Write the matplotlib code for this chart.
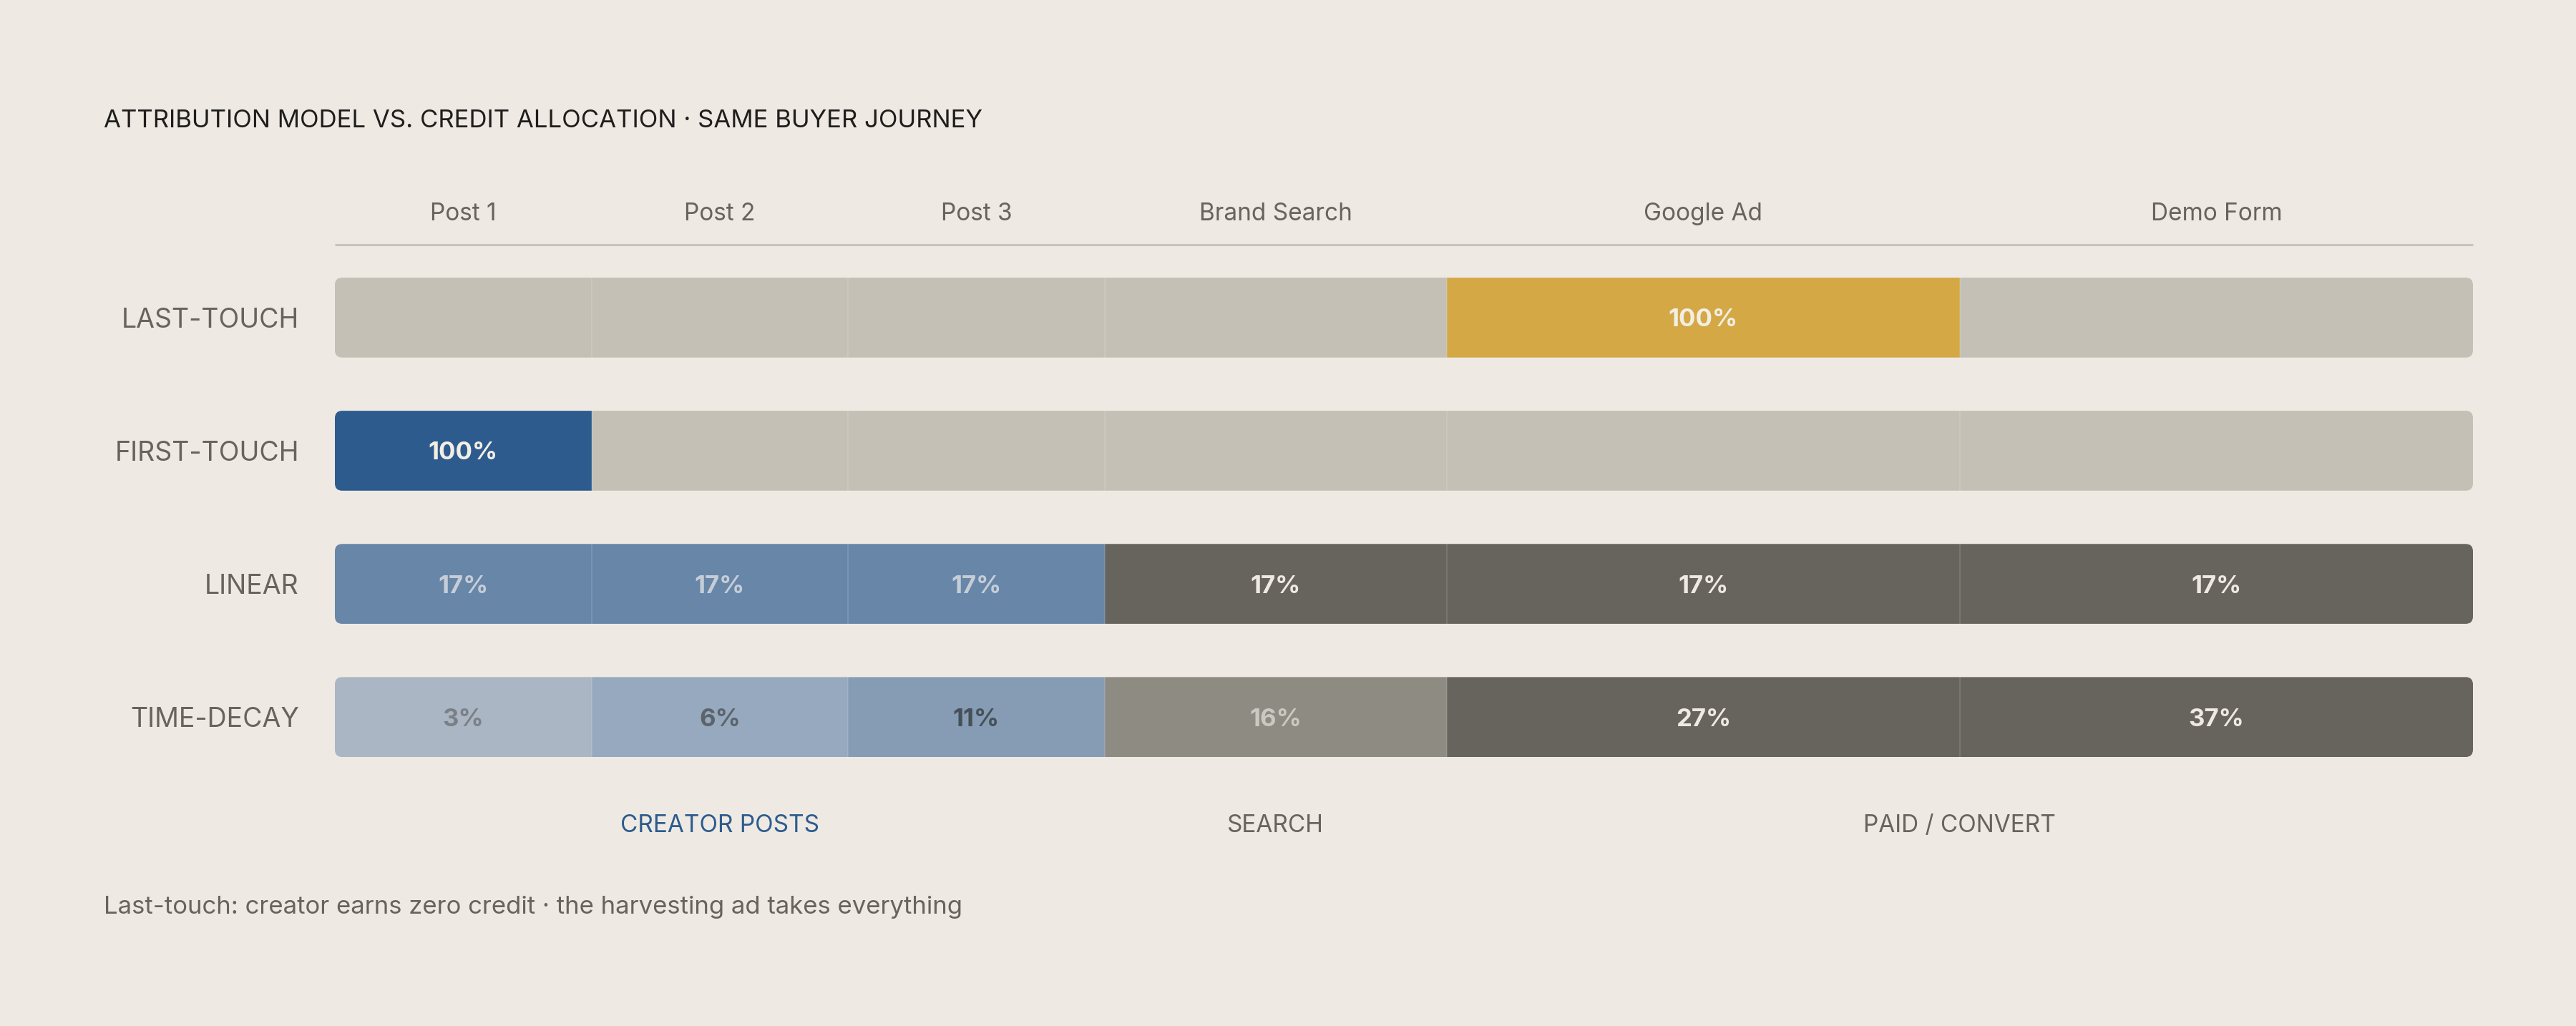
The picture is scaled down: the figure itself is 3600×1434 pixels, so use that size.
# Attribution model vs. credit allocation chart

import matplotlib.pyplot as plt
from matplotlib.patches import FancyBboxPatch
import numpy as np

plt.rcParams['font.family'] = ['Inter', 'DejaVu Sans']

# data
touchpoints = ['Post 1', 'Post 2', 'Post 3', 'Brand Search', 'Google Ad', 'Demo Form']
models = ['LAST-TOUCH', 'FIRST-TOUCH', 'LINEAR', 'TIME-DECAY']
last_touch = [0, 0, 0, 0, 100, 0]
first_touch = [100, 0, 0, 0, 0, 0]
linear = [17, 17, 17, 17, 17, 17]
time_decay = [3, 6, 11, 16, 27, 37]
groups = ['CREATOR POSTS', 'SEARCH', 'PAID / CONVERT']
group_members = [[0, 1, 2], [3], [4, 5]]

credit = [last_touch, first_touch, linear, time_decay]

# layout / style
col_span = np.array([3, 3, 3, 4, 6, 6])
lefts = np.concatenate([[0], np.cumsum(col_span)[:-1]])
total = col_span.sum()

BG = '#EEEAE3'
EMPTY = '#C4C0B5'
INK = '#67645E'
cell_colors = [
    ['#D4A845'] * 6,
    ['#2D5B8E'] * 6,
    ['#6786A8', '#6786A8', '#6786A8', '#67645E', '#67645E', '#67645E'],
    ['#AAB6C3', '#97A9BE', '#859CB4', '#8E8B83', '#67645E', '#67645E'],
]
text_colors = [
    ['#F3EEE4'] * 6,
    ['#F3EEE4'] * 6,
    ['#C6CDD7', '#C6CDD7', '#C6CDD7', '#EEEAE3', '#EEEAE3', '#EEEAE3'],
    ['#7B8087', '#5C636B', '#465059', '#CBC8C1', '#EEEAE3', '#EEEAE3'],
]
bar_h = 0.6

fig = plt.figure(figsize=(36, 14.34), dpi=100, facecolor=BG)
ax = fig.add_axes([0.13, 0.2622, 0.83, 0.4672])
ax.set_facecolor(BG)
ax.set_xlim(0, total)
ax.set_ylim(3.3, -0.3)
ax.axis('off')

for i, row in enumerate(credit):
    # rounded outline for the whole row, used to clip the cells
    outline = FancyBboxPatch((0, i - bar_h / 2), total, bar_h,
                             boxstyle='round,pad=0,rounding_size=0.085',
                             mutation_aspect=0.64, facecolor='none',
                             edgecolor='none', transform=ax.transData)
    ax.add_patch(outline)

    colors = [cell_colors[i][j] if v > 0 else EMPTY for j, v in enumerate(row)]
    bars = ax.barh(i, col_span, left=lefts, height=bar_h, color=colors, linewidth=0)
    for b in bars:
        b.set_clip_path(outline)

    # thin separators between cells
    ax.vlines(lefts[1:], i - bar_h / 2, i + bar_h / 2, colors='white',
              alpha=0.14, linewidth=1.2)

    for j, v in enumerate(row):
        if v > 0:
            ax.text(lefts[j] + col_span[j] / 2, i, f'{v}%', ha='center',
                    va='center_baseline', fontsize=25, fontweight='bold',
                    color=text_colors[i][j])

    ax.text(-0.42, i, models[i], ha='right', va='center_baseline', fontsize=27,
            color=INK, clip_on=False)

# column headers and rule
for j, name in enumerate(touchpoints):
    ax.text(lefts[j] + col_span[j] / 2, -0.795, name, ha='center',
            va='center_baseline', fontsize=24, color=INK, clip_on=False)
ax.plot([0, total], [-0.547, -0.547], color='#C9C4BB', linewidth=2.2,
        clip_on=False, solid_capstyle='butt')

# group labels under the bars
for g, members in enumerate(group_members):
    x0 = lefts[members[0]]
    x1 = lefts[members[-1]] + col_span[members[-1]]
    ax.text((x0 + x1) / 2, 3.795, groups[g], ha='center', va='center_baseline',
            fontsize=24, color='#2D5B8E' if g == 0 else INK, clip_on=False)

fig.text(0.0403, 1 - 165 / 1434, 'ATTRIBUTION MODEL VS. CREDIT ALLOCATION · SAME BUYER JOURNEY',
         ha='left', va='center_baseline', fontsize=25, color='#1F1E1C')
fig.text(0.0403, 1 - 1265 / 1434,
         'Last-touch: creator earns zero credit · the harvesting ad takes everything',
         ha='left', va='center_baseline', fontsize=25, color=INK)

fig.savefig('out.png', dpi=100, facecolor=BG)
